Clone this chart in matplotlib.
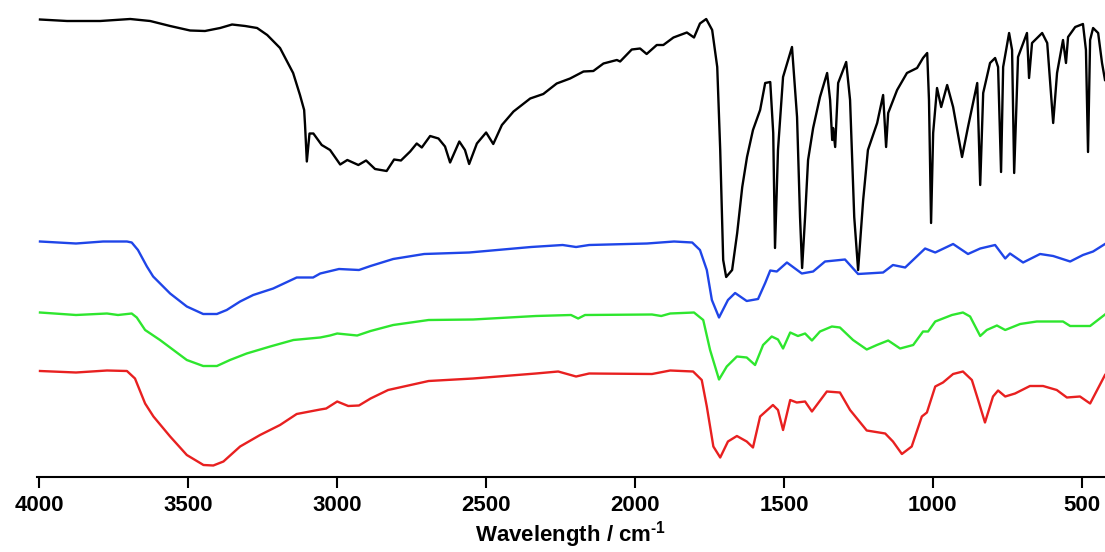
import matplotlib
matplotlib.use("Agg")
import matplotlib.pyplot as plt

# ---- data (wavenumber in cm-1, transmittance in arbitrary offset units) ----
black_wn = [3998, 3907, 3796, 3695, 3628, 3561, 3494, 3444, 3393, 3353, 3309, 3269, 3235, 3192,
            3148, 3125, 3111, 3108, 3102, 3093, 3080, 3052, 3024, 2990, 2966, 2929, 2903, 2873,
            2834, 2809, 2786, 2755, 2733, 2716, 2688, 2660, 2638, 2621, 2590, 2571, 2557, 2531,
            2500, 2476, 2447, 2408, 2352, 2308, 2263, 2218, 2173, 2140, 2106, 2061, 2050, 2011,
            1983, 1961, 1927, 1905, 1871, 1826, 1802, 1782, 1761, 1741, 1724, 1714, 1704, 1694,
            1674, 1657, 1640, 1624, 1604, 1580, 1563, 1546, 1536, 1530, 1520, 1503, 1473, 1456,
            1446, 1439, 1429, 1419, 1402, 1379, 1355, 1345, 1338, 1335, 1328, 1318, 1291, 1278,
            1264, 1251, 1234, 1218, 1187, 1167, 1157, 1150, 1120, 1087, 1053, 1033, 1019, 1013,
            1006, 999, 986, 972, 952, 932, 902, 882, 851, 841, 831, 808, 791, 781, 771, 764, 744,
            734, 727, 714, 684, 677, 667, 633, 616, 606, 596, 583, 563, 553, 546, 522, 496, 486,
            479, 472, 462, 445, 432, 422]
black_t = [91.5, 91.2, 91.2, 91.6, 91.2, 90.2, 89.3, 89.2, 89.8, 90.5, 90.2, 89.8, 88.4, 85.8,
           80.8, 76.4, 73.4, 70.4, 63.1, 68.7, 68.7, 66.4, 65.4, 62.5, 63.4, 62.4, 63.3, 61.6,
           61.2, 63.5, 63.3, 65.1, 66.7, 65.9, 68.2, 67.7, 66.1, 62.9, 67.1, 65.4, 62.6, 66.7,
           68.9, 66.6, 70.4, 73.1, 75.7, 76.6, 78.7, 79.7, 81.1, 81.2, 82.7, 83.4, 83.1, 85.5,
           85.7, 84.6, 86.4, 86.4, 87.9, 88.9, 87.9, 90.7, 91.6, 89.4, 82.0, 65.4, 43.4, 40.0,
           41.4, 48.8, 58.0, 64.0, 69.4, 73.4, 78.8, 79.0, 68.8, 45.8, 65.4, 80.0, 86.0, 72.0,
           52.0, 41.8, 52.0, 63.4, 69.8, 76.0, 80.8, 75.4, 67.4, 69.8, 66.0, 78.8, 83.0, 75.4,
           52.0, 41.4, 55.4, 65.4, 70.8, 76.4, 66.0, 72.8, 77.4, 80.8, 81.8, 83.8, 84.8, 75.4,
           50.8, 68.8, 77.8, 74.0, 78.4, 74.0, 64.0, 70.0, 78.8, 58.4, 76.8, 82.8, 83.8, 82.0,
           61.0, 82.0, 88.8, 85.4, 60.8, 84.0, 88.8, 79.8, 86.8, 88.8, 86.8, 78.8, 70.8, 80.8,
           87.4, 82.8, 88.0, 90.0, 90.6, 85.4, 65.0, 87.4, 89.8, 88.8, 82.8, 79.4]

blue_wn = [3998, 3877, 3786, 3706, 3690, 3669, 3639, 3618, 3561, 3505, 3450, 3404, 3371, 3326,
           3282, 3215, 3136, 3081, 3057, 2994, 2927, 2888, 2812, 2708, 2557, 2349, 2243, 2198,
           2154, 1960, 1869, 1808, 1782, 1759, 1742, 1718, 1688, 1664, 1625, 1587, 1563, 1546,
           1524, 1490, 1440, 1402, 1362, 1295, 1251, 1167, 1134, 1093, 1026, 992, 932, 882, 841,
           791, 757, 741, 697, 640, 596, 539, 496, 462, 422]
blue_t = [47.1, 46.7, 47.1, 47.1, 46.9, 45.4, 42.1, 40.1, 36.7, 34.1, 32.6, 32.6, 33.4, 35.1,
          36.4, 37.7, 39.9, 39.9, 40.7, 41.6, 41.4, 42.2, 43.6, 44.6, 44.9, 46.0, 46.4, 46.0,
          46.4, 46.7, 47.1, 46.9, 45.4, 41.4, 35.4, 31.9, 35.4, 36.8, 35.2, 35.6, 38.8, 41.3,
          41.1, 42.9, 40.7, 41.1, 43.1, 43.5, 40.6, 40.9, 42.4, 41.9, 45.7, 44.9, 46.6, 44.6, 45.7,
          46.4, 43.7, 44.7, 42.9, 44.6, 44.2, 43.1, 44.4, 45.1, 46.6]

green_wn = [3998, 3877, 3773, 3736, 3690, 3673, 3645, 3595, 3505, 3450, 3404, 3360, 3304, 3225,
            3147, 3057, 3024, 3000, 2933, 2888, 2812, 2693, 2544, 2333, 2215, 2191, 2168, 1943,
            1912, 1882, 1802, 1771, 1748, 1718, 1692, 1658, 1625, 1597, 1570, 1541, 1520, 1503,
            1479, 1453, 1429, 1406, 1379, 1339, 1312, 1268, 1222, 1188, 1150, 1110, 1066, 1033,
            1016, 992, 936, 899, 875, 841, 819, 785, 757, 707, 651, 563, 539, 472, 422]
green_t = [32.9, 32.4, 32.7, 32.4, 32.7, 31.9, 29.4, 27.4, 23.4, 22.2, 22.2, 23.4, 24.7, 26.1,
           27.4, 27.9, 28.3, 28.7, 28.3, 29.2, 30.4, 31.4, 31.5, 32.2, 32.4, 31.7, 32.4, 32.5,
           32.2, 32.7, 32.9, 31.4, 25.4, 19.5, 22.1, 24.1, 23.9, 22.4, 26.4, 28.1, 27.5, 25.7,
           28.9, 28.2, 28.7, 27.3, 29.1, 30.1, 29.9, 27.4, 25.5, 26.4, 27.3, 25.7, 26.4, 29.1,
           29.1, 31.1, 32.4, 32.9, 32.1, 28.2, 29.4, 30.3, 29.4, 30.6, 31.1, 31.1, 30.2, 30.2, 32.5]

red_wn = [3998, 3877, 3773, 3706, 3679, 3645, 3617, 3561, 3505, 3449, 3416, 3382, 3326, 3259,
          3192, 3136, 3057, 3037, 3000, 2963, 2927, 2888, 2829, 2693, 2544, 2333, 2258, 2198,
          2154, 1943, 1882, 1805, 1776, 1759, 1737, 1714, 1688, 1658, 1625, 1604, 1580, 1537,
          1520, 1503, 1479, 1457, 1429, 1406, 1356, 1312, 1278, 1222, 1160, 1134, 1104, 1071,
          1037, 1020, 992, 966, 932, 899, 869, 848, 825, 798, 781, 757, 724, 674, 630, 584, 550,
          506, 472, 422]
red_t = [21.2, 20.9, 21.3, 21.2, 19.7, 14.7, 12.1, 8.1, 4.4, 2.4, 2.3, 3.1, 6.1, 8.4,
         10.4, 12.6, 13.5, 13.7, 15.1, 14.2, 14.3, 15.7, 17.4, 19.2, 19.7, 20.7, 21.1, 20.1,
         20.7, 20.6, 21.3, 21.1, 19.4, 14.1, 6.1, 3.9, 7.1, 8.2, 7.1, 5.9, 12.1, 14.4,
         13.4, 9.4, 15.4, 14.9, 15.1, 13.1, 17.1, 16.9, 13.4, 9.3, 8.7, 7.1, 4.6, 6.1,
         12.1, 12.9, 18.1, 18.9, 20.6, 21.1, 19.4, 15.4, 10.9, 16.1, 17.3, 16.1, 16.7, 18.2,
         18.2, 17.4, 15.9, 16.1, 14.7, 20.4]

tick_values = [4000, 3500, 3000, 2500, 2000, 1500, 1000, 500]
x_label = "Wavelength / cm$^{\\text{-1}}$"

# ---- styling ----
plt.rcParams["font.family"] = ["Liberation Sans", "DejaVu Sans"]
plt.rcParams["mathtext.fontset"] = "custom"
plt.rcParams["mathtext.bf"] = "Liberation Sans:bold"
plt.rcParams["mathtext.rm"] = "Liberation Sans:bold"
plt.rcParams["mathtext.it"] = "Liberation Sans:bold"

fig = plt.figure(figsize=(11.05, 5.52), dpi=100)
ax = fig.add_axes([36.7 / 1105, 75 / 552, (1105 - 36.7) / 1105, 477 / 552])

lw = 1.7
ax.plot(black_wn, black_t, color="#000000", lw=lw, solid_joinstyle="round")
ax.plot(blue_wn, blue_t, color="#1f45e8", lw=lw, solid_joinstyle="round")
ax.plot(green_wn, green_t, color="#2ee62e", lw=lw, solid_joinstyle="round")
ax.plot(red_wn, red_t, color="#e82020", lw=lw, solid_joinstyle="round")

ax.set_xlim(4009, 422)
ax.set_ylim(0, 95.4)
for s in ["top", "right", "left"]:
    ax.spines[s].set_visible(False)
ax.spines["bottom"].set_linewidth(1.5)
ax.set_yticks([])
ax.set_xticks(tick_values)
ax.set_xticklabels([str(v) for v in tick_values], fontsize=16, fontweight="bold")
ax.tick_params(axis="x", length=8, width=1.5, pad=5, direction="out")
ax.set_xlabel(x_label, fontsize=16, fontweight="bold", labelpad=2)

fig.savefig("out.png", dpi=100)
